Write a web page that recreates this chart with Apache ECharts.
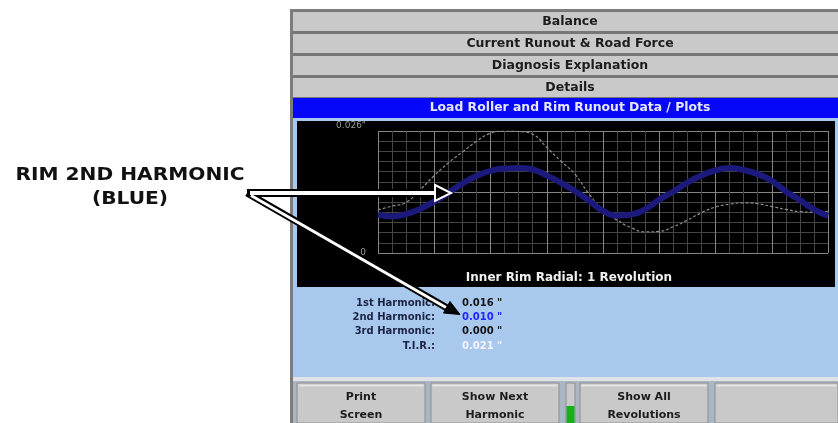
<!DOCTYPE html>
<html>
<head>
<meta charset="utf-8">
<script src="https://cdn.jsdelivr.net/npm/echarts@6/dist/echarts.min.js"></script>
<style>html,body{margin:0;padding:0;background:#fff;}#c{width:838px;height:423px;}</style>
</head>
<body>
<div id="c"></div>
<script>
// ---- data ----
const positions = [0,1,2,3,4,5,6,7,8,9,10,11,12,13,14,15,16,17,18,19,20,21,22,23,24,25,26,27,28,29,30,31,32];
const rimTotal = [0.0092,0.0100,0.0108,0.0135,0.0165,0.0192,0.0215,0.0238,0.0255,0.0260,0.0259,0.0253,0.0225,0.0196,0.0168,0.0126,0.0092,0.0070,0.0054,0.0045,0.0046,0.0056,0.0070,0.0086,0.0098,0.0104,0.0107,0.0105,0.0099,0.0093,0.0088,0.0087,0.0089];
const rim2ndHarmonic = [0.0082,0.0078,0.0083,0.0094,0.0110,0.0128,0.0148,0.0164,0.0175,0.0180,0.0181,0.0178,0.0165,0.0150,0.0132,0.0112,0.0090,0.0080,0.0082,0.0093,0.0114,0.0131,0.0150,0.0165,0.0176,0.0181,0.0177,0.0168,0.0154,0.0131,0.0113,0.0093,0.0079];
const yTickLabels = ['0', '0.026"'];
const tabLabels = ['Balance', 'Current Runout & Road Force', 'Diagnosis Explanation', 'Details'];
const headerLabel = 'Load Roller and Rim Runout Data / Plots';
const chartTitle = 'Inner Rim Radial: 1 Revolution';
const harmonicNames = ['1st Harmonic:', '2nd Harmonic:', '3rd Harmonic:', 'T.I.R.:'];
const harmonicValues = ['0.016 "', '0.010 "', '0.000 "', '0.021 "'];
const buttonLabels = ['Print\nScreen', 'Show Next\nHarmonic', 'Show All\nRevolutions', ''];
const annotationLines = ['RIM 2ND HARMONIC', '(BLUE)'];

const FONT = '"DejaVu Sans", Verdana, sans-serif';
const chart = echarts.init(document.getElementById('c'), null, {renderer: 'canvas'});

const g = [];
// panel frame
g.push({type:'rect', z:-20, shape:{x:290,y:9,width:548,height:414}, style:{fill:'#7c7c7c'}});
g.push({type:'rect', z:-19, shape:{x:293,y:11,width:545,height:87}, style:{fill:'#767676'}});
tabLabels.forEach((t,i)=>{
  g.push({type:'rect', z:-18, shape:{x:293,y:12+22*i,width:545,height:19}, style:{fill:'#c9c9c9'}});
  g.push({type:'text', z:-17, x:570, y:21.5+22*i, style:{text:t, fill:'#1c1c1c', font:'bold 12.5px '+FONT, align:'center', verticalAlign:'middle'}});
});
g.push({type:'rect', z:-18, shape:{x:293,y:98,width:545,height:20}, style:{fill:'#0606f8'}});
g.push({type:'text', z:-17, x:570, y:108, style:{text:headerLabel, fill:'#e6e6ff', font:'bold 12.4px '+FONT, align:'center', verticalAlign:'middle'}});
// light blue panel
g.push({type:'rect', z:-18, shape:{x:293,y:118,width:545,height:260}, style:{fill:'#a8c8ee'}});
g.push({type:'rect', z:-17, shape:{x:297,y:121,width:538,height:166}, style:{fill:'#000'}});
g.push({type:'rect', z:-18, shape:{x:293,y:377,width:545,height:4}, style:{fill:'#dfe2e6'}});
g.push({type:'rect', z:-18, shape:{x:293,y:381,width:545,height:42}, style:{fill:'#aab6c4'}});
// harmonic readouts
const valColors = ['#141414', '#2424ff', '#141414', '#f4f4ff'];
harmonicNames.forEach((t,i)=>{
  g.push({type:'text', z:5, x:435, y:303+14.4*i, style:{text:t, fill:'#1c2444', font:'bold 10px '+FONT, align:'right', verticalAlign:'middle'}});
  g.push({type:'text', z:5, x:462, y:303+14.4*i, style:{text:harmonicValues[i], fill:valColors[i], font:'bold 10px '+FONT, align:'left', verticalAlign:'middle'}});
});
// buttons
const btns = [[297,128],[431,128],[580,128],[715,123]];
btns.forEach((b,i)=>{
  g.push({type:'rect', z:-16, shape:{x:b[0],y:383,width:b[1],height:40}, style:{fill:'#c9c9c9', stroke:'#8e8e8e', lineWidth:1}});
  g.push({type:'rect', z:-15, shape:{x:b[0]+1.5,y:384.5,width:b[1]-3,height:2}, style:{fill:'#e4e4e4'}});
  if (buttonLabels[i]) g.push({type:'text', z:-14, x:b[0]+b[1]/2, y:406, style:{text:buttonLabels[i], fill:'#1c1c1c', font:'bold 11px '+FONT, align:'center', verticalAlign:'middle', lineHeight:17.5}});
});
g.push({type:'rect', z:-16, shape:{x:566,y:383,width:9,height:40}, style:{fill:'#c9c9c9', stroke:'#8e8e8e', lineWidth:1}});
g.push({type:'rect', z:-15, shape:{x:566.5,y:406,width:8,height:17}, style:{fill:'#18b018'}});
// annotation text
g.push({type:'text', z:5, x:130, y:175, scaleX:1.12, style:{text:annotationLines[0], fill:'#111', font:'bold 18px "DejaVu Sans", sans-serif', align:'center', verticalAlign:'middle'}});
g.push({type:'text', z:5, x:130, y:199, scaleX:1.12, style:{text:annotationLines[1], fill:'#111', font:'bold 18px "DejaVu Sans", sans-serif', align:'center', verticalAlign:'middle'}});
// arrows (annotation)
g.push({type:'polyline', z:50, shape:{points:[[247,193],[437,193]]}, style:{stroke:'#000', lineWidth:8, fill:null}});
g.push({type:'polyline', z:51, shape:{points:[[250,193],[437,193]]}, style:{stroke:'#fff', lineWidth:4, fill:null}});
g.push({type:'polygon', z:52, shape:{points:[[435,185],[451,193],[435,201]]}, style:{fill:'#000', stroke:'#fff', lineWidth:2}});
g.push({type:'polyline', z:50, shape:{points:[[247,193],[448,308.5]]}, style:{stroke:'#000', lineWidth:7, fill:null}});
g.push({type:'polyline', z:51, shape:{points:[[251,195.5],[446,307.5]]}, style:{stroke:'#fff', lineWidth:3, fill:null}});
g.push({type:'polygon', z:52, shape:{points:[[443.5,313],[450,301.5],[460,314.5]]}, style:{fill:'#000', stroke:'#000', lineWidth:1}});

const MAJ = '#858585', MIN = '#444444';
const option = {
  backgroundColor: '#ffffff',
  animation: false,
  title: {text: chartTitle, left: 564, top: 267, textAlign: 'center',
    textStyle: {color: '#f0f0f0', fontFamily: FONT, fontWeight: 'bold', fontSize: 12}},
  grid: {left: 378, right: 10, top: 131, bottom: 170, containLabel: false},
  xAxis: {type: 'value', min: 0, max: 32, interval: 1,
    axisLine: {show: false}, axisTick: {show: false}, axisLabel: {show: false},
    splitLine: {show: true, lineStyle: {color: [MAJ, MIN, MIN, MIN], width: 1}}},
  yAxis: [
    {type: 'value', min: 0, max: 0.026, interval: 0.026,
      axisLine: {show: false}, axisTick: {show: false}, splitLine: {show: false},
      axisLabel: {show: true, margin: 12, color: '#9a9a9a', fontSize: 9, fontFamily: FONT,
        formatter: v => v > 0 ? '{t|' + yTickLabels[1] + '}' : yTickLabels[0],
        rich: {t: {color: '#9a9a9a', fontSize: 9, fontFamily: FONT, padding: [0,0,10,0]}}}},
    {type: 'value', min: 0, max: 12, interval: 1, position: 'left',
      axisLine: {show: false}, axisTick: {show: false}, axisLabel: {show: false},
      splitLine: {show: true, lineStyle: {color: [MAJ, MIN, MIN, MIN, MIN, MIN], width: 1}}}
  ],
  series: [
    {name: 'Rim runout', type: 'line', smooth: true, symbol: 'none', yAxisIndex: 0, z: 3,
      lineStyle: {color: '#8e8e8e', width: 1.2, type: [3, 2]},
      data: positions.map((p, i) => [p, rimTotal[i]])},
    {name: 'Rim 2nd harmonic', type: 'line', smooth: true, symbol: 'none', yAxisIndex: 0, z: 4,
      lineStyle: {color: '#1c197c', width: 6},
      data: positions.map((p, i) => [p, rim2ndHarmonic[i]])}
  ],
  graphic: {elements: g}
};
chart.setOption(option);
</script>
</body>
</html>
